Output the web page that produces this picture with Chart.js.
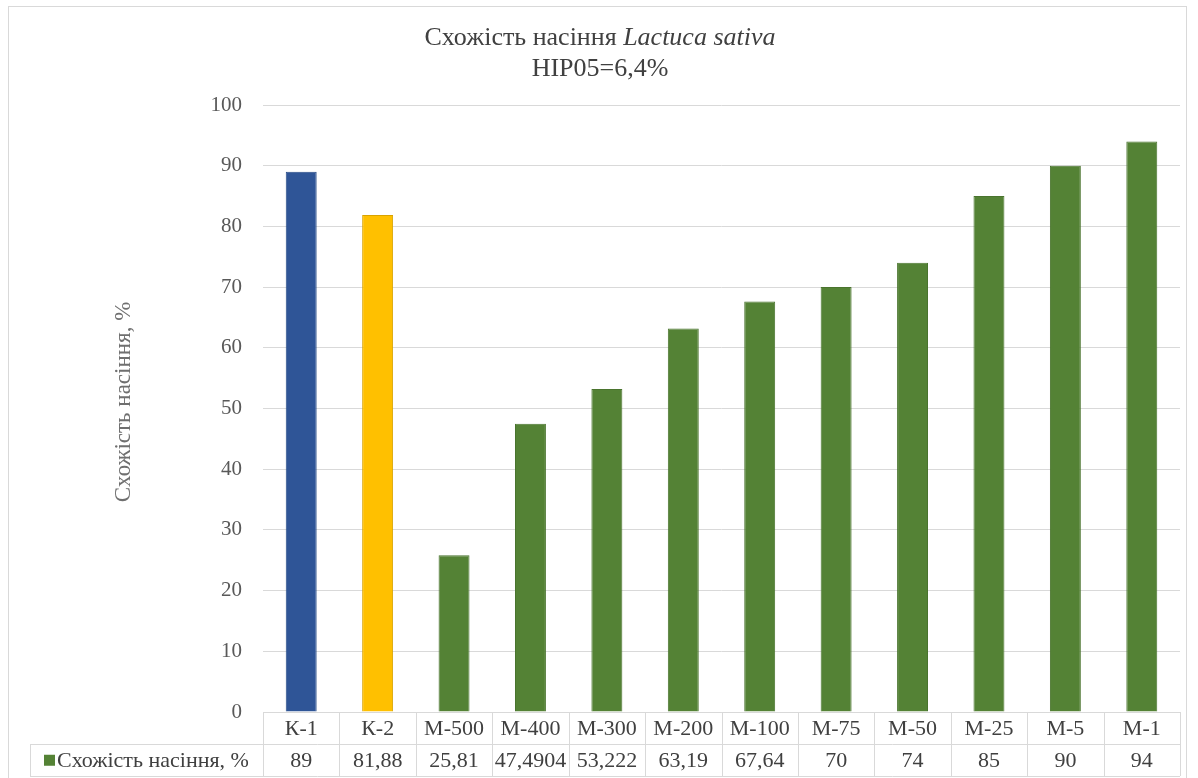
<!DOCTYPE html>
<html>
<head>
<meta charset="utf-8">
<script src="https://cdn.jsdelivr.net/npm/chart.js@4.4.1/dist/chart.umd.min.js"></script>
<style>
  html, body { margin: 0; padding: 0; background: #ffffff; }
  #wrap { width: 1198px; height: 778px; }
</style>
</head>
<body>
<div id="wrap"><canvas id="c" width="1198" height="778"></canvas></div>
<script>
// Варіанти досліду
const categories = ['К-1', 'К-2', 'М-500', 'М-400', 'М-300', 'М-200', 'М-100', 'М-75', 'М-50', 'М-25', 'М-5', 'М-1'];
// Схожість насіння, %
const germination = [89, 81.88, 25.81, 47.4904, 53.222, 63.19, 67.64, 70, 74, 85, 90, 94];
// Колір стовпчика для кожного варіанту
const barColors = ['#2f5597', '#ffc000', '#548235', '#548235', '#548235', '#548235', '#548235', '#548235', '#548235', '#548235', '#548235', '#548235'];
const seriesName = 'Схожість насіння, %';
const yTicks = [0, 10, 20, 30, 40, 50, 60, 70, 80, 90, 100];

const SERIF = '"Liberation Serif", "DejaVu Serif", serif';
const GRID = '#d9d9d9';
const TEXT = '#404040';

function fmt(v) { return String(v).replace('.', ','); }

// Заголовок, підпис осі, рамка та таблиця даних під графіком
const decor = {
  id: 'decor',
  beforeDraw(chart) {
    const ctx = chart.ctx;
    ctx.save();
    ctx.fillStyle = '#ffffff';
    ctx.fillRect(0, 0, chart.width, chart.height);
    ctx.strokeStyle = GRID;
    ctx.lineWidth = 1;
    ctx.strokeRect(8.5, 6.5, 1178, 780);
    ctx.restore();
  },
  afterDraw(chart) {
    const ctx = chart.ctx;
    const ca = chart.chartArea;
    const x = chart.scales.x;
    ctx.save();

    // Заголовок
    ctx.fillStyle = TEXT;
    ctx.textBaseline = 'middle';
    const part1 = 'Схожість насіння ';
    const part2 = 'Lactuca sativa';
    const f1 = '26px ' + SERIF, f2 = 'italic 26px ' + SERIF;
    ctx.font = f1; const w1 = ctx.measureText(part1).width;
    ctx.font = f2; const w2 = ctx.measureText(part2).width;
    const cx = 600;
    let sx = cx - (w1 + w2) / 2;
    ctx.textAlign = 'left';
    ctx.font = f1; ctx.fillText(part1, sx, 38);
    ctx.font = f2; ctx.fillText(part2, sx + w1, 38);
    ctx.font = f1; ctx.textAlign = 'center';
    ctx.fillText('НІР05=6,4%', cx, 69);

    // Підпис осі Y
    ctx.save();
    ctx.translate(124, 402);
    ctx.rotate(-Math.PI / 2);
    ctx.font = '23px ' + SERIF;
    ctx.fillStyle = '#6f6f6f';
    ctx.textAlign = 'center';
    ctx.textBaseline = 'middle';
    ctx.fillText(seriesName, 0, 0);
    ctx.restore();

    // Таблиця даних
    const n = categories.length;
    const colW = (ca.right - ca.left) / n;
    const top = ca.bottom;
    const mid = top + 31.5;
    const bot = top + 64;
    const legendLeft = 30;
    ctx.strokeStyle = GRID;
    ctx.lineWidth = 1;
    ctx.beginPath();
    ctx.moveTo(ca.left, Math.round(top) + 0.5); ctx.lineTo(ca.right, Math.round(top) + 0.5);
    ctx.moveTo(legendLeft, Math.round(mid) + 0.5); ctx.lineTo(ca.right, Math.round(mid) + 0.5);
    ctx.moveTo(legendLeft, Math.round(bot) + 0.5); ctx.lineTo(ca.right, Math.round(bot) + 0.5);
    ctx.moveTo(legendLeft + 0.5, Math.round(mid)); ctx.lineTo(legendLeft + 0.5, Math.round(bot));
    for (let i = 0; i <= n; i++) {
      const lx = Math.round(ca.left + i * colW) + 0.5;
      ctx.moveTo(lx, top); ctx.lineTo(lx, bot);
    }
    ctx.stroke();

    ctx.font = '22px ' + SERIF;
    ctx.fillStyle = TEXT;
    ctx.textAlign = 'center';
    ctx.textBaseline = 'middle';
    germination.forEach((v, i) => {
      ctx.fillText(fmt(v), x.getPixelForValue(i), (mid + bot) / 2 + 1);
    });

    // Легенда в таблиці
    ctx.fillStyle = barColors[2];
    ctx.fillRect(44, (mid + bot) / 2 - 5, 11, 11);
    ctx.fillStyle = TEXT;
    ctx.textAlign = 'left';
    ctx.fillText(seriesName, 57, (mid + bot) / 2 + 1);
    ctx.restore();
  }
};

new Chart(document.getElementById('c'), {
  type: 'bar',
  data: {
    labels: categories,
    datasets: [{
      label: seriesName,
      data: germination,
      backgroundColor: barColors,
      borderColor: barColors.map(c => c === '#ffc000' ? '#d9a300' : (c === '#2f5597' ? '#264a85' : '#4a742e')),
      borderWidth: 1,
      categoryPercentage: 1,
      barPercentage: 0.405
    }]
  },
  options: {
    responsive: false,
    animation: false,
    layout: { padding: { top: 105, right: 18, bottom: 0, left: 0 } },
    plugins: {
      legend: { display: false },
      title: { display: false },
      tooltip: { enabled: false }
    },
    scales: {
      x: {
        grid: { display: false, drawTicks: false },
        border: { display: false },
        ticks: {
          font: { family: SERIF, size: 22 },
          color: TEXT,
          padding: 4,
          maxRotation: 0
        },
        afterFit(s) { s.height = 66; }
      },
      y: {
        min: 0,
        max: 100,
        afterBuildTicks(s) { s.ticks = yTicks.map(v => ({ value: v })); },
        grid: { color: GRID, drawTicks: false },
        border: { display: false },
        ticks: {
          font: { family: SERIF, size: 21 },
          color: '#595959',
          padding: 21
        },
        afterFit(s) { s.width = 263; }
      }
    }
  },
  plugins: [decor]
});
</script>
</body>
</html>
